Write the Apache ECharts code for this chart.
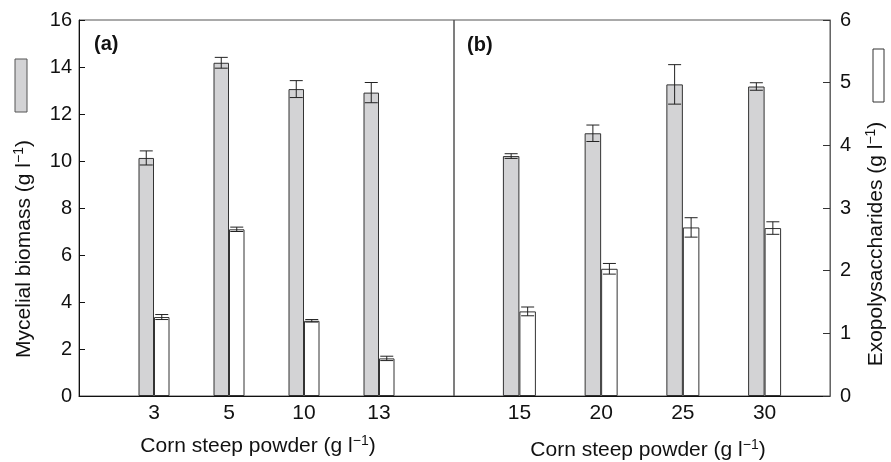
<!DOCTYPE html>
<html>
<head>
<meta charset="utf-8">
<script src="https://cdn.jsdelivr.net/npm/echarts@6/dist/echarts.min.js"></script>
<style>
  html, body { margin: 0; padding: 0; background: #fff; }
  #chart { width: 891px; height: 462px; }
</style>
</head>
<body>
<div id="chart"></div>
<script>
// panel (a)
var cornA = ['3', '5', '10', '13'];
var biomassA = [10.13, 14.18, 13.06, 12.91];
var biomassErrA = [0.30, 0.23, 0.36, 0.43];
var epsA = [1.26, 2.66, 1.20, 0.60];
var epsErrA = [0.04, 0.035, 0.02, 0.035];

// panel (b)
var cornB = [15, 20, 25, 30];
var biomassB = [10.21, 11.18, 13.26, 13.17];
var biomassErrB = [0.10, 0.35, 0.84, 0.16];
var epsB = [1.35, 2.03, 2.69, 2.68];
var epsErrB = [0.07, 0.085, 0.155, 0.10];

var leftTicks = [0, 16, 2];
var rightTicks = [0, 6, 1];

var FONT = 'Liberation Sans, Arial, sans-serif';
var GREY = '#d3d3d5';
var EDGE = '#333';
var BW_A = 15.5, BW_B = 16.5;

var posA = cornA.map(function (c, i) { return i + 1; });

function pairs(xs, ys) {
    return xs.map(function (x, i) { return [x, ys[i]]; });
}
function triples(xs, ys, es) {
    return xs.map(function (x, i) { return [x, ys[i], es[i]]; });
}

function errorBar(shift) {
    return function (params, api) {
        var x = api.value(0), y = api.value(1), e = api.value(2);
        var hi = api.coord([x, y + e]);
        var lo = api.coord([x, y - e]);
        var cx = hi[0] + shift;
        var cap = 6.5;
        var st = { stroke: '#222', lineWidth: 1 };
        return {
            type: 'group',
            children: [
                { type: 'line', shape: { x1: cx, y1: hi[1], x2: cx, y2: lo[1] }, style: st },
                { type: 'line', shape: { x1: cx - cap, y1: hi[1], x2: cx + cap, y2: hi[1] }, style: st },
                { type: 'line', shape: { x1: cx - cap, y1: lo[1], x2: cx + cap, y2: lo[1] }, style: st }
            ]
        };
    };
}

var chart = echarts.init(document.getElementById('chart'));

var sup = { fontSize: 14, fontFamily: FONT, fill: '#111', padding: [0, 0, 9, 0], verticalAlign: 'bottom' };
function axisTitle(txt, x, y, rot) {
    return {
        type: 'text', x: x, y: y, rotation: rot || 0,
        style: {
            text: txt + ' (g l{s|\u22121})',
            fontSize: 21, fontFamily: FONT, fill: '#111',
            align: 'center', verticalAlign: 'middle',
            rich: { s: sup }
        }
    };
}

var option = {
    backgroundColor: '#fff',
    animation: false,
    textStyle: { fontFamily: FONT },
    grid: [
        { left: 79, right: 437, top: 20, bottom: 66, show: true, borderColor: '#555', borderWidth: 1 },
        { left: 454, right: 61, top: 20, bottom: 66, show: true, borderColor: '#555', borderWidth: 1 }
    ],
    xAxis: [
        {
            type: 'value', gridIndex: 0, min: 0, max: cornA.length + 1, interval: 1,
            axisLine: { lineStyle: { color: '#111' } },
            axisTick: { show: false }, splitLine: { show: false },
            axisLabel: {
                color: '#111', fontSize: 21, margin: 7,
                formatter: function (v) { return cornA[v - 1] || ''; }
            }
        },
        {
            type: 'value', gridIndex: 1, min: 11, max: 34, interval: 1,
            axisLine: { lineStyle: { color: '#111' } },
            axisTick: { show: false }, splitLine: { show: false },
            axisLabel: {
                color: '#111', fontSize: 21, margin: 7,
                formatter: function (v) { return cornB.indexOf(v) >= 0 ? String(v) : ''; }
            }
        }
    ],
    yAxis: [
        {
            type: 'value', gridIndex: 0, position: 'left',
            min: leftTicks[0], max: leftTicks[1], interval: leftTicks[2],
            axisLine: { show: true, lineStyle: { color: '#111' } },
            axisTick: { show: true, inside: true, length: 6, lineStyle: { color: '#111' } },
            splitLine: { show: false },
            axisLabel: { color: '#111', fontSize: 20, margin: 7 }
        },
        {
            type: 'value', gridIndex: 0, position: 'right', show: false,
            min: rightTicks[0], max: rightTicks[1], interval: rightTicks[2],
            splitLine: { show: false }
        },
        {
            type: 'value', gridIndex: 1, position: 'left', show: false,
            min: leftTicks[0], max: leftTicks[1], interval: leftTicks[2],
            splitLine: { show: false }
        },
        {
            type: 'value', gridIndex: 1, position: 'right',
            min: rightTicks[0], max: rightTicks[1], interval: rightTicks[2],
            axisLine: { show: true, lineStyle: { color: '#666' } },
            axisTick: { show: true, inside: true, length: 7, lineStyle: { color: '#333' } },
            splitLine: { show: false },
            axisLabel: { color: '#111', fontSize: 20, margin: 10 }
        }
    ],
    series: [
        {
            name: 'Mycelial biomass', type: 'bar', xAxisIndex: 0, yAxisIndex: 0,
            barWidth: BW_A, barGap: '0%',
            itemStyle: { color: GREY, borderColor: EDGE, borderWidth: 1 },
            data: pairs(posA, biomassA)
        },
        {
            name: 'Exopolysaccharides', type: 'bar', xAxisIndex: 0, yAxisIndex: 1,
            barWidth: BW_A, barGap: '0%',
            itemStyle: { color: '#fff', borderColor: EDGE, borderWidth: 1 },
            data: pairs(posA, epsA)
        },
        {
            type: 'custom', xAxisIndex: 0, yAxisIndex: 0, z: 5,
            renderItem: errorBar(-BW_A / 2), data: triples(posA, biomassA, biomassErrA)
        },
        {
            type: 'custom', xAxisIndex: 0, yAxisIndex: 1, z: 5,
            renderItem: errorBar(BW_A / 2), data: triples(posA, epsA, epsErrA)
        },
        {
            name: 'Mycelial biomass', type: 'bar', xAxisIndex: 1, yAxisIndex: 2,
            barWidth: BW_B, barGap: '0%',
            itemStyle: { color: GREY, borderColor: EDGE, borderWidth: 1 },
            data: pairs(cornB, biomassB)
        },
        {
            name: 'Exopolysaccharides', type: 'bar', xAxisIndex: 1, yAxisIndex: 3,
            barWidth: BW_B, barGap: '0%',
            itemStyle: { color: '#fff', borderColor: EDGE, borderWidth: 1 },
            data: pairs(cornB, epsB)
        },
        {
            type: 'custom', xAxisIndex: 1, yAxisIndex: 2, z: 5,
            renderItem: errorBar(-BW_B / 2), data: triples(cornB, biomassB, biomassErrB)
        },
        {
            type: 'custom', xAxisIndex: 1, yAxisIndex: 3, z: 5,
            renderItem: errorBar(BW_B / 2), data: triples(cornB, epsB, epsErrB)
        }
    ],
    graphic: [
        // legend swatches beside the axis titles
        { type: 'rect', shape: { x: 15, y: 59, width: 12, height: 53 }, style: { fill: GREY, stroke: '#555', lineWidth: 1 } },
        { type: 'rect', shape: { x: 873, y: 49, width: 11, height: 53 }, style: { fill: '#fff', stroke: '#333', lineWidth: 1 } },
        axisTitle('Mycelial biomass', 24, 249, Math.PI / 2),
        axisTitle('Exopolysaccharides', 876, 244, Math.PI / 2),
        axisTitle('Corn steep powder', 258, 446, 0),
        axisTitle('Corn steep powder', 648, 450, 0),
        { type: 'text', x: 94, y: 44, style: { text: '(a)', fontSize: 20, fontWeight: 'bold', fontFamily: FONT, fill: '#111', verticalAlign: 'middle' } },
        { type: 'text', x: 467, y: 45, style: { text: '(b)', fontSize: 20, fontWeight: 'bold', fontFamily: FONT, fill: '#111', verticalAlign: 'middle' } }
    ]
};
chart.setOption(option);
</script>
</body>
</html>
